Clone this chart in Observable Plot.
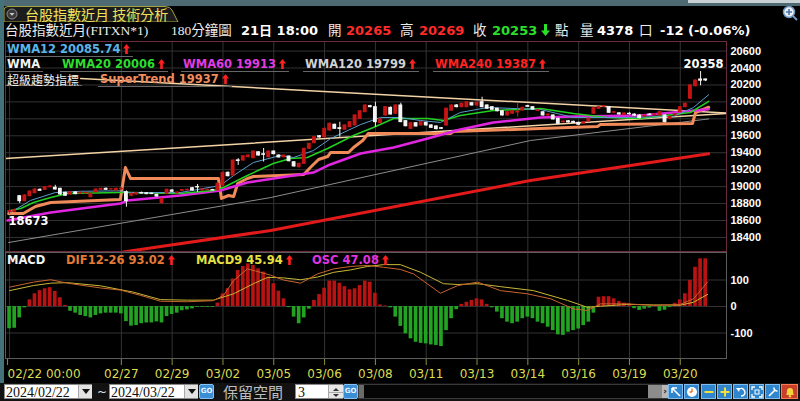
<!DOCTYPE html>
<html><head><meta charset="utf-8">
<script src="https://cdn.jsdelivr.net/npm/d3@7"></script>
<script src="https://cdn.jsdelivr.net/npm/@observablehq/plot@0.6"></script>
<style>
html,body{margin:0;padding:0;background:#000;}
#root{position:relative;width:800px;height:401px;overflow:hidden;background:#000;}
.lg{position:absolute;white-space:nowrap;font-family:"DejaVu Sans",sans-serif;font-weight:bold;font-size:11.5px;line-height:13px;height:13px;border-bottom:1px solid #666;padding:0 3px 0 2px;}
.ml{position:absolute;white-space:nowrap;font-family:"DejaVu Sans",sans-serif;font-weight:bold;font-size:11.5px;line-height:13px;height:13px;padding:0 3px 0 2px;}
svg.arr{vertical-align:-1px;margin-left:3px;}
.btn{position:absolute;top:384px;width:15px;height:15px;box-sizing:border-box;background:#2f86cc;border:1px solid #7cbcee;}
</style></head><body><div id="root"></div>
<script>
// ---------- data ----------
const tickIdx = [0,22,32,42,52,62,72,82,92,102,112,122,132];
const tickLabels = ["02/22 00:00","02/27","02/29","03/02","03/05","03/06","03/08","03/11","03/13","03/14","03/16","03/19","03/20"];
const priceTicks = [18400,18600,18800,19000,19200,19400,19600,19800,20000,20200,20400,20600];
const macdTicks = [-100,0,100];

// [open, high, low, close] per 180-minute bar
const ohlc = [
[18700,18725,18673,18712],[18705,18735,18690,18720],[18887,18895,18800,18828],[18828,18905,18820,18895],[18887,18950,18880,18942],
[18922,18975,18915,18966],[18962,18975,18945,18950],[18962,19000,18955,18993],[18993,19010,18985,19001],[18986,19015,18960,18966],
[18974,18980,18900,18907],[18927,18935,18885,18892],[18907,18940,18900,18931],[18931,18940,18905,18911],[18919,18935,18912,18927],
[18920,18932,18914,18926],[18875,18920,18868,18915],[18934,18972,18928,18966],[18962,18980,18955,18974],[18974,18985,18955,18962],
[18966,18978,18958,18970],[18954,18980,18948,18974],[18968,18985,18960,18975],[18934,18950,18757,18828],[18892,18925,18880,18915],
[18907,18930,18900,18922],[18925,18935,18910,18918],[18922,18930,18905,18911],[18918,18925,18905,18912],[18903,18910,18875,18883],
[18804,18862,18795,18856],[18915,18970,18905,18962],[18954,18965,18930,18939],[18920,18936,18912,18930],[18950,18966,18942,18960],
[18955,18970,18948,18962],[18981,18990,18948,18954],[18995,19025,18930,18990],[18955,18972,18948,18966],[18958,18970,18950,18964],
[18960,18968,18948,18955],[18954,19040,18948,19033],[19012,19175,19000,19160],[19163,19172,19115,19123],[19131,19315,19125,19308],
[19310,19330,19250,19302],[19308,19365,19300,19359],[19347,19375,19340,19367],[19335,19420,19330,19414],[19406,19412,19360,19367],
[19382,19450,19290,19375],[19347,19420,19340,19414],[19414,19422,19375,19383],[19367,19375,19338,19344],[19347,19372,19340,19367],
[19355,19362,19292,19300],[19288,19295,19230,19238],[19229,19275,19220,19269],[19269,19452,19262,19446],[19446,19512,19440,19505],
[19513,19590,19505,19583],[19595,19602,19572,19580],[19583,19690,19575,19682],[19662,19750,19655,19742],[19730,19738,19675,19682],
[19690,19760,19583,19680],[19671,19730,19665,19722],[19702,19768,19695,19761],[19722,19848,19715,19840],[19800,19898,19792,19890],
[19879,19965,19872,19958],[19950,19960,19930,19938],[19938,19997,19702,19761],[19749,19800,19740,19793],[19840,19945,19832,19938],
[19930,19940,19845,19851],[19860,19965,19852,19958],[19958,19985,19755,19761],[19773,19780,19705,19713],[19682,19756,19675,19749],
[19749,19756,19702,19710],[19722,19768,19715,19761],[19753,19760,19715,19722],[19722,19730,19686,19694],[19710,19716,19670,19678],
[19690,19698,19675,19682],[19722,19926,19715,19919],[19896,19965,19890,19958],[19958,19968,19930,19938],[19938,19985,19930,19978],
[19938,20004,19930,19997],[19985,19995,19950,19958],[19958,19998,19950,19990],[19997,20055,19930,19938],[19958,19965,19912,19919],
[19938,19945,19900,19907],[19919,19925,19882,19890],[19890,19897,19832,19840],[19840,19886,19832,19879],[19860,19897,19853,19890],
[19875,19978,19820,19885],[19899,19937,19892,19930],[19950,19960,19935,19942],[19938,19945,19902,19910],[19893,19910,19885,19902],
[19878,19885,19832,19840],[19840,19858,19830,19850],[19840,19848,19786,19793],[19800,19806,19734,19741],[19760,19776,19752,19768],
[19772,19780,19750,19758],[19765,19772,19745,19752],[19753,19760,19722,19730],[19745,19770,19738,19762],[19770,19810,19762,19802],
[19860,19933,19852,19926],[19918,19946,19910,19938],[19942,19958,19935,19950],[19938,19945,19864,19871],[19872,19885,19860,19878],
[19865,19872,19845,19852],[19846,19870,19840,19864],[19860,19872,19845,19855],[19850,19860,19830,19838],[19840,19848,19800,19808],
[19830,19845,19820,19838],[19850,19862,19838,19845],[19845,19858,19832,19852],[19840,19886,19832,19879],[19840,19848,19752,19761],
[19800,19830,19790,19822],[19840,19860,19832,19852],[19879,19945,19870,19938],[19938,19985,19930,19978],[20037,20202,20030,20194],
[20185,20260,20178,20252],[20265,20358,20190,20250],[20265,20269,20240,20253]
];

// indicator lines: [bar index, value]
const wma12Line = [[0.2,18694],[4.1,18836],[9,18930],[14,18945],[21.8,18950],[23.8,18930],[33.6,18930],[41.5,19013],[44.1,19131],[48,19285],[53.3,19367],[55.9,19344],[59.8,19426],[63.2,19568],[69.1,19733],[73,19816],[76.9,19816],[80.9,19780],[84.8,19757],[88.7,19875],[94.1,19934],[104.5,19910],[111,19816],[120.8,19816],[130.7,19828],[134.6,19934],[137.6,20085]];
const wma20Line = [[0.2,18718],[2.2,18741],[4.7,18812],[8.1,18871],[11.4,18918],[21.8,18930],[23.8,18930],[33.6,18918],[40.1,18954],[42.1,18989],[46.8,19131],[51.9,19273],[55.3,19332],[58.6,19344],[62.6,19450],[67.7,19603],[71.6,19698],[75.6,19804],[82.3,19804],[85.4,19780],[88.7,19839],[95.2,19898],[104.5,19922],[111,19863],[117.7,19816],[124.2,19804],[134,19875],[137.6,20006]];
const wma60Line = [[-0.4,18600],[8.1,18694],[21.8,18800],[23.2,18836],[33.6,18895],[41.5,18954],[46.8,19048],[53.3,19107],[59.8,19166],[62.6,19249],[69.1,19391],[75.6,19462],[82.3,19568],[88.7,19674],[95.2,19757],[104.5,19816],[111,19828],[124.2,19839],[137.6,19913]];
const wma120Line = [[-0.2,18340],[51.4,18871],[102.5,19544],[137.6,19799]];
const wma240Line = [[21.8,18222],[24.4,18246],[51.4,18482],[102.5,19072],[137.6,19387]];
const superTrendLine = [[-0.2,18682],[2.7,18682],[5.1,18765],[8.1,18812],[21.8,18848],[22.8,19225],[23.8,19096],[41.1,19096],[41.7,18860],[43.1,18895],[44.1,18883],[44.9,19037],[46.8,19096],[48,19119],[57.9,19143],[59.2,19225],[60.8,19320],[62.6,19355],[63.2,19403],[66.7,19403],[67.7,19462],[69.5,19544],[70.6,19627],[86.8,19627],[87.4,19650],[104.5,19686],[115.7,19710],[116.3,19733],[134.4,19745],[135,19875],[137.6,19937]];
const trendUpper = [[14,20276],[141.1,19870]];
const trendLower = [[-0.8,19332],[141.1,19862]];

// MACD
const osc = [-84,-82,-43,-5,25,48,60,67,71,57,
 33,4,-18,-25,-34,-38,-43,-34,-28,-25,
 -25,-25,-28,-57,-74,-72,-65,-62,-62,-58,
 -62,-38,-30,-25,-16,-13,-9,-3,-3,-3,
 -3,13,48,67,104,136,151,161,155,142,
 130,111,86,58,29,-4,-40,-65,-43,-10,
 23,45,69,96,96,88,75,63,67,79,
 96,92,50,6,2,-5,-40,-75,-103,-122,
 -135,-139,-141,-145,-147,-151,-91,-46,-12,8,
 16,23,29,25,8,-5,-21,-46,-59,-65,
 -59,-46,-40,-46,-59,-65,-78,-91,-107,-109,
 -97,-91,-85,-72,-59,-25,35,37,37,29,
 19,13,10,-8,-15,-10,-6,3,-18,-14,
 -4,12,25,48,98,148,180,180];
const difLine = [[0,73],[4.7,92],[8.1,101],[11.4,88],[17.9,70],[21.8,62],[25.8,42],[29.7,20],[35,18],[40.1,22],[42.1,42],[44.1,98],[46.8,142],[49.4,129],[51.4,118],[53.9,100],[57.3,88],[60.6,123],[63.8,142],[67.1,151],[70.4,155],[73.6,148],[76.9,140],[79.5,123],[84.8,50],[88.2,79],[92.1,92],[96.6,60],[101.9,48],[106.5,29],[111,-9],[113.7,-15],[116.3,10],[121.6,10],[126.7,4],[132,8],[134.6,29],[137.4,93]];
const macd9Line = [[0,60],[4.7,79],[8.1,88],[11.4,90],[17.9,78],[24.4,54],[29.7,26],[35,24],[40.1,24],[44.1,48],[48,86],[50.8,110],[53.9,108],[57.3,101],[60.6,111],[63.8,129],[67.1,138],[70.4,151],[73.6,158],[76.9,158],[80.9,129],[85.4,86],[88.2,83],[92.1,86],[96.6,75],[103.1,60],[109.8,23],[113.7,-3],[116.3,1],[121.6,8],[126.7,6],[132,5],[134.6,16],[137.4,46]];

// header / legend texts
const headerQuote = {open:"20265", high:"20269", close:"20253", vol:"4378", chg:"-12 (-0.06%)", time:"21日 18:00"};
const wmaLegend = [
  {row:1, x:5,   text:"WMA12 20085.74", color:"#5ab4e8", arrow:true},
  {row:2, x:5,   text:"WMA",            color:"#f2f2f2", arrow:false},
  {row:2, x:60,  text:"WMA20 20006",    color:"#2ede2e", arrow:true},
  {row:2, x:181, text:"WMA60 19913",    color:"#e23ce2", arrow:true},
  {row:2, x:303, text:"WMA120 19799",   color:"#d2d2d2", arrow:true},
  {row:2, x:433, text:"WMA240 19387",   color:"#ff2424", arrow:true},
  {row:3, x:98,  text:"SuperTrend 19937", color:"#f08c5e", arrow:true}
];
const macdLegend = [
  {x:5,   text:"MACD",           color:"#f2f2f2", arrow:false},
  {x:64,  text:"DIF12-26 93.02", color:"#e47a36", arrow:true},
  {x:194, text:"MACD9 45.94",    color:"#e6e040", arrow:true},
  {x:310, text:"OSC 47.08",      color:"#e034e0", arrow:true}
];

// ---------- helpers ----------
const root = document.getElementById("root");
function el(css, html){const e=document.createElement("div");e.style.cssText=css;if(html!=null)e.innerHTML=html;root.appendChild(e);return e;}
function put(x, cy, html, css, size, lh){lh=lh||Math.round(size*1.2);return el(`position:absolute;white-space:nowrap;left:${x}px;top:${cy-lh/2}px;line-height:${lh}px;font-size:${size}px;${css}`, html);}
const arrowUp = (c="#ff2020") => `<svg class="arr" width="7" height="10" viewBox="0 0 7 10"><path d="M3.5 0L7 4.5H4.8V10H2.2V4.5H0Z" fill="${c}"/></svg>`;

// ---------- frame decor ----------
el("position:absolute;left:0;top:0;width:800px;height:22px;",
 `<svg width="800" height="22">
   <rect x="0" y="0" width="800" height="6" fill="#4d6a72"/>
   <rect x="688" y="0" width="112" height="3" fill="#c9d1d5"/>
   <path d="M4 22V10Q4 6.5 8 6.5H165Q170 6.5 172 10L178 22Z" fill="#1c1c1c" stroke="#a4a23c"/>
   <circle cx="12" cy="14" r="5" fill="#3a3a3a" stroke="#8a8a8a"/>
   <path d="M9.5 13H14.5L12 15.8Z" fill="#d0d0d0"/>
   <circle cx="789" cy="12" r="5.5" fill="#e8eef4" stroke="#6f96bf" stroke-width="1.5"/>
   <path d="M786 12H792M789 9V15" stroke="#4a74a8" stroke-width="1.6"/>
   <path d="M793 16L797 20" stroke="#6f96bf" stroke-width="2"/>
 </svg>`);
el("position:absolute;left:0;top:0;width:4px;height:383px;background:#44727a;");
put(25, 14, "台股指數近月 技術分析", "color:#f2e25a;font-family:'Noto Sans CJK TC';", 14, 18);

// header quote row
const hSerif = "color:#ececec;font-family:'Liberation Serif','Noto Sans CJK TC';";
const hBold = "font-family:'DejaVu Sans','Noto Sans CJK TC';font-weight:bold;";
put(5, 31, "台股指數近月(FITXN*1)", hSerif, 13.5, 18);
put(171, 31, "180分鐘圖", hSerif, 13.5, 18);
put(241, 31, headerQuote.time, hBold+"color:#fff;", 13, 16);
put(328, 31, "開", hSerif, 13.5, 18);
put(346, 31, headerQuote.open, hBold+"color:#ff2a2a;", 13, 16);
put(400, 31, "高", hSerif, 13.5, 18);
put(419, 31, headerQuote.high, hBold+"color:#ff2a2a;", 13, 16);
put(473, 31, "收", hSerif, 13.5, 18);
put(492, 31, headerQuote.close, hBold+"color:#2ae02a;", 13, 16);
put(541, 31, `<svg width="9" height="12" viewBox="0 0 9 12"><path d="M4.5 12L9 6.5H6V0H3V6.5H0Z" fill="#2ae02a"/></svg>`, "", 12, 14);
put(555, 31, "點", hSerif, 13.5, 18);
put(580, 31, "量", hSerif, 13.5, 18);
put(597, 31, headerQuote.vol, hBold+"color:#fff;", 13, 16);
put(639, 31, "口", hSerif, 13.5, 18);
put(660, 31, headerQuote.chg, hBold+"color:#fff;", 13, 16);

// ---------- plots ----------
const X_DOMAIN = [-0.8, 141.1];
const candles = ohlc.map((d,i)=>({i, o:d[0], h:d[1], l:d[2], c:d[3], up:d[3]>=d[0]}));
const hiIdx = d3.maxIndex(candles, d=>d.h), loIdx = d3.minIndex(candles, d=>d.l);
const UP="#c41414", DN="#f4f4f4";
const axisFont = {fill:"#ffffff", fontSize:11, fontWeight:"bold", fontFamily:"Liberation Sans", label:null};
const ln = (data, stroke, w) => Plot.line(data, {x:d=>d[0], y:d=>d[1], stroke, strokeWidth:w, clip:true});

const price = Plot.plot({
  width:800, height:210, marginLeft:5, marginRight:74, marginTop:0, marginBottom:0,
  x:{domain:X_DOMAIN, axis:null, label:null}, y:{domain:[18234,20713], axis:null, label:null},
  color:{type:"identity"},
  style:{background:"transparent", color:"#fff", fontFamily:"DejaVu Sans", overflow:"visible"},
  marks:[
    Plot.ruleY(priceTicks, {stroke:"#333333"}),
    Plot.ruleX(tickIdx, {stroke:"#333333"}),
    ln(wma240Line, "#e41a1a", 3),
    ln(wma120Line, "#8c8c8c", 1),
    ln(trendLower, "#f3d3a6", 1.5),
    ln(trendUpper, "#f3d3a6", 1.5),
    ln(superTrendLine, "#f08a58", 3),
    ln(wma60Line, "#e026e0", 2.5),
    ln(wma20Line, "#22d022", 1.5),
    ln(wma12Line, "#5b9ccc", 1),
    Plot.ruleX(candles, {x:"i", y1:"l", y2:"h", stroke:d=>d.up?"#d42020":DN, strokeWidth:1}),
    Plot.rect(candles, {x1:d=>d.i-0.38, x2:d=>d.i+0.38, y1:"o", y2:"c", fill:d=>d.up?UP:DN, insetTop:-0.5, insetBottom:-0.5}),
    Plot.text([candles[hiIdx]], {x:"i", y:"h", text:d=>String(d.h), dy:-7, dx:3, fill:"#fff", fontSize:11.5, fontWeight:"bold", fontFamily:"DejaVu Sans"}),
    Plot.text([candles[loIdx]], {x:"i", y:"l", text:d=>String(d.l), dy:7, dx:-1, textAnchor:"start", fill:"#fff", fontSize:11.5, fontWeight:"bold", fontFamily:"DejaVu Sans"}),
    Plot.axisY(priceTicks, {anchor:"right", tickSize:0, tickPadding:4, tickFormat:d=>String(d), ...axisFont}),
    Plot.frame({stroke:"#6a2c3e"})
  ]
});
const pw = el("position:absolute;left:0;top:41px;width:800px;height:210px;");
pw.appendChild(price);

const oscData = osc.map((v,i)=>({i, v}));
const labelMap = new Map(tickIdx.map((t,k)=>[t, tickLabels[k]]));
const xAxisStyle = {tickSize:7, tickPadding:4, stroke:"#8e8e3a", fill:"#dcdc50", fontSize:12, fontFamily:"DejaVu Sans", label:null, tickFormat:d=>labelMap.get(d)};
const macd = Plot.plot({
  width:800, height:131, marginLeft:5, marginRight:74, marginTop:0, marginBottom:25,
  x:{domain:X_DOMAIN, axis:null, label:null}, y:{domain:[-196.2,203.8], axis:null, label:null},
  color:{type:"identity"},
  style:{background:"transparent", color:"#fff", fontFamily:"DejaVu Sans", overflow:"visible"},
  marks:[
    Plot.ruleY(macdTicks, {stroke:"#333333"}),
    Plot.ruleX(tickIdx, {stroke:"#333333"}),
    Plot.rect(oscData, {x1:d=>d.i-0.36, x2:d=>d.i+0.36, y1:0, y2:"v", fill:d=>d.v>=0?"#b81212":"#22a422"}),
    ln(macd9Line, "#c9b834", 1),
    ln(difLine, "#c8642c", 1),
    Plot.axisY(macdTicks, {anchor:"right", tickSize:0, tickPadding:4, tickFormat:d=>String(d), ...axisFont}),
    Plot.axisX([tickIdx[0]], {...xAxisStyle, textAnchor:"start", dx:-2}),
    Plot.axisX(tickIdx.slice(1), xAxisStyle),
    Plot.frame({stroke:"#5c5c5c"})
  ]
});
const mw = el("position:absolute;left:0;top:252px;width:800px;height:131px;");
mw.appendChild(macd);

// ---------- legends ----------
const rowCy = {1:49, 2:64, 3:79};
for (const L of wmaLegend) {
  el(`left:${L.x}px;top:${rowCy[L.row]-6.5}px;color:${L.color};`, L.text + (L.arrow?arrowUp():"")).className="lg";
}
el(`position:absolute;white-space:nowrap;left:5px;top:${79-7.5}px;height:13px;line-height:15px;font-size:12px;font-family:'Noto Sans CJK TC';color:#f0f0f0;border-bottom:1px solid #666;padding:0 3px 0 2px;`, "超級趨勢指標");
for (const L of macdLegend) {
  el(`left:${L.x}px;top:${260.5-6.5}px;color:${L.color};`, L.text + (L.arrow?arrowUp():"")).className="ml";
}

// ---------- bottom control bar ----------
el("position:absolute;left:0;top:383px;width:800px;height:18px;background:#121212;");
const tri = `<svg width="8" height="5" viewBox="0 0 8 5"><path d="M0 0H8L4 5Z" fill="#111"/></svg>`;
function dateBox(x, w, text){
  el(`position:absolute;left:${x}px;top:384px;width:${w}px;height:15px;background:#fff;border:1px solid #8a8a8a;box-sizing:border-box;`);
  put(x+2, 392, text, "font-family:'Liberation Serif';color:#111;", 14, 15);
  el(`position:absolute;left:${x+w-14}px;top:385px;width:13px;height:13px;background:#e2e2e2;border-left:1px solid #a8a8a8;display:flex;align-items:center;justify-content:center;`, tri);
}
function goBtn(x){
  el(`position:absolute;left:${x}px;top:384px;width:15px;height:15px;background:#3a8ed6;border:1px solid #86c2f0;box-sizing:border-box;border-radius:2px;color:#eaf4ff;font:bold 7px 'DejaVu Sans';line-height:13px;text-align:center;`, "GO");
}
dateBox(4, 88, "2024/02/22");
put(97, 392, "~", "color:#e0e0e0;font-family:'DejaVu Sans';", 12, 14);
dateBox(109, 89, "2024/03/22");
goBtn(199);
put(223, 392, "保留空間", "color:#bdbdbd;font-family:'Noto Sans CJK TC';", 15, 18);
el("position:absolute;left:295px;top:384px;width:48px;height:15px;background:#fff;border:1px solid #8a8a8a;box-sizing:border-box;");
put(298, 392, "3", "font-family:'Liberation Serif';color:#111;", 14, 15);
el("position:absolute;left:328px;top:385px;width:14px;height:13px;background:#e6e6e6;border-left:1px solid #a8a8a8;",
  `<svg width="14" height="13"><path d="M4 5H10L7 2Z" fill="#333"/><path d="M4 8H10L7 11Z" fill="#333"/><path d="M0 6.5H14" stroke="#aaa"/></svg>`);
goBtn(343);
el("position:absolute;left:358px;top:384px;width:310px;height:15px;background:#050505;border:1px solid #3a3a3a;box-sizing:border-box;");
el("position:absolute;left:359px;top:385px;width:5px;height:13px;background:#6a6a6a;");
el("position:absolute;left:648px;top:385px;width:14px;height:13px;background:#8c8c8c;");
el("position:absolute;left:662px;top:385px;width:6px;height:13px;background:#b8b8b8;color:#222;font:bold 9px 'DejaVu Sans';line-height:13px;text-align:center;", "›");
const tools = [
  `<path d="M3 3L11 11M3 3H8M3 3V8" stroke="#fff" stroke-width="1.6" fill="none"/>`,
  `<circle cx="7" cy="7" r="5" fill="#fff"/><path d="M7 7V3.5M7 7H4.5" stroke="#e8741e" stroke-width="1.4"/>`,
  `<path d="M2.5 7H11.5" stroke="#f4e03a" stroke-width="2"/>`,
  `<path d="M2.5 7H11.5M7 2.5V11.5" stroke="#f4e03a" stroke-width="2"/>`,
  `<path d="M4 5Q9 1 11 7Q11 11 7 11" stroke="#fff" stroke-width="1.4" fill="none"/><path d="M2 3L5 7L6 3Z" fill="#fff"/>`,
  `<path d="M2 5V2H5M9 2H12V5M12 9V12H9M5 12H2V9" stroke="#fff" stroke-width="1.3" fill="none"/><rect x="5" y="5" width="4" height="4" fill="none" stroke="#fff"/>`,
  `<path d="M3 11L9 5M8 2.5A3 3 0 0 0 11.5 6" stroke="#fff" stroke-width="1.6" fill="none"/>`,
  `<path d="M3 10Q4 9 4 6Q4 3 7 3Q10 3 10 6Q10 9 11 10Z" fill="#f6d23c"/><circle cx="7" cy="11.3" r="1.2" fill="#f6d23c"/>`
];
const toolX = [668,684,701,717,733,749,765,781];
tools.forEach((g,k)=>{
  const b = el(`left:${toolX[k]}px;${k===7?"background:#c8402a;border-color:#ff7a50;width:17px;":""}`, `<svg width="14" height="14" viewBox="0 0 14 14" style="display:block;margin:0 auto;">${g}</svg>`);
  b.className="btn";
});
</script></body></html>
